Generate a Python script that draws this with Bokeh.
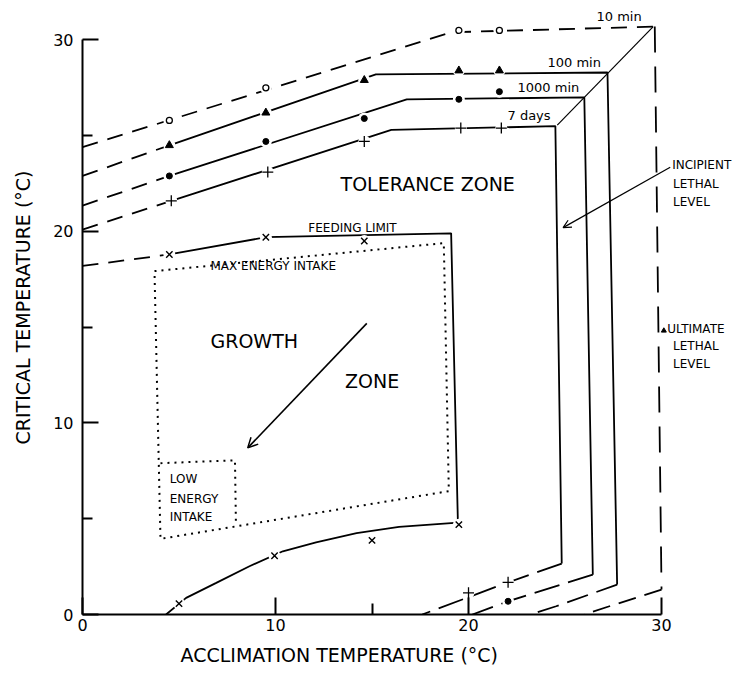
from bokeh.plotting import figure
from bokeh.models import Range1d, FixedTicker, Arrow, OpenHead, Title
from bokeh.embed import file_html
from bokeh.resources import INLINE
from bokeh.core.properties import value

FONT = "DejaVu Sans"

# ---------------- data ----------------
# upper critical temperatures (markers)
acc_10min = [4.5, 9.5, 19.5, 21.6]
crit_10min = [25.8, 27.5, 30.5, 30.5]
acc_100min = [4.5, 9.5, 14.6, 19.5, 21.6]
crit_100min = [24.5, 26.2, 27.9, 28.4, 28.4]
acc_1000min = [4.5, 9.5, 14.6, 19.5, 21.6]
crit_1000min = [22.9, 24.7, 25.9, 26.9, 27.3]
acc_7days = [4.6, 9.6, 14.6, 19.6, 21.7]
crit_7days = [21.6, 23.1, 24.7, 25.4, 25.4]
# lower critical temperatures (markers)
acc_7days_low = [20.0, 22.05]
crit_7days_low = [1.13, 1.68]
acc_1000min_low = [22.05]
crit_1000min_low = [0.69]
# feeding limits (markers)
acc_feed_up = [4.5, 9.5, 14.6]
crit_feed_up = [18.8, 19.7, 19.5]
acc_feed_low = [5.0, 9.95, 15.0, 19.5]
crit_feed_low = [0.57, 3.07, 3.87, 4.69]

# envelope curves
env10_top_x = [0, 19.1, 29.65]
env10_top_y = [24.4, 30.4, 30.7]
env10_side_x = [29.65, 30.0]
env10_side_y = [30.7, 1.3]
env10_low_x = [30.0, 27.3, 26.0]
env10_low_y = [1.3, 0.43, 0.0]

env100_ext_x = [0, 4.5]
env100_ext_y = [22.9, 24.5]
env100_x = [4.5, 15.2, 27.2, 27.7]
env100_y = [24.5, 28.2, 28.3, 1.56]
env100_low_x = [27.7, 24.54, 23.2]
env100_low_y = [1.56, 0.43, 0.0]

env1000_ext_x = [0, 4.5]
env1000_ext_y = [21.35, 22.9]
env1000_x = [4.5, 16.8, 26.0, 26.44]
env1000_y = [22.9, 26.9, 27.0, 2.08]
env1000_low_x = [26.44, 22.05, 20.2]
env1000_low_y = [2.08, 0.69, 0.0]

env7_ext_x = [0, 4.6]
env7_ext_y = [20.1, 21.6]
env7_x = [4.6, 16.0, 24.5, 24.83]
env7_y = [21.6, 25.3, 25.5, 2.66]
env7_low_x = [24.83, 22.05, 17.6]
env7_low_y = [2.66, 1.68, 0.0]

feed_ext_x = [0, 4.5]
feed_ext_y = [18.2, 18.8]
feed_x = [4.5, 9.5, 19.1, 19.45]
feed_y = [18.8, 19.7, 19.9, 4.8]
feed_low_x = [19.45, 16.4, 14.2, 12.1, 10.38, 8.65, 6.93, 5.37, 4.33]
feed_low_y = [4.8, 4.57, 4.25, 3.77, 3.3, 2.52, 1.65, 0.87, 0.0]

maxe_x = [3.73, 18.72, 18.98, 4.04, 3.73]
maxe_y = [17.93, 19.39, 6.44, 3.95, 17.93]
lowe_x = [4.04, 7.9, 7.95]
lowe_y = [7.9, 8.05, 4.65]

corner_link_x = [29.57, 24.6]
corner_link_y = [30.7, 25.55]

x_ticks = [0, 10, 20, 30]
y_ticks = [0, 10, 20, 30]

# ---------------- figure ----------------
p = figure(width=750, height=676, output_backend="svg", toolbar_location=None,
           x_range=Range1d(0, 34.61), y_range=Range1d(0, 32.06),
           min_border_left=82, min_border_right=0, min_border_top=0,
           min_border_bottom=62)
p.outline_line_color = None
p.grid.visible = False
p.background_fill_color = "white"

for ax in (p.xaxis[0], p.yaxis[0]):
    ax.bounds = (0, 30)
    ax.major_tick_out = 0
    ax.minor_tick_out = 0
    ax.axis_line_width = 2
    ax.major_tick_line_width = 2
    ax.minor_tick_line_width = 2
    ax.major_label_text_font = FONT
    ax.major_label_text_font_size = "16px"
    ax.major_label_text_color = "black"
    ax.axis_label_text_font = FONT
    ax.axis_label_text_font_size = "19px"
    ax.axis_label_text_font_style = "normal"
    ax.axis_label_text_color = "black"

p.xaxis.ticker = FixedTicker(ticks=x_ticks, minor_ticks=[15])
p.xaxis.major_tick_in = 17
p.xaxis.minor_tick_in = 11
p.xaxis.major_label_standoff = 4

p.yaxis.ticker = FixedTicker(ticks=y_ticks, minor_ticks=[5, 15, 25])
p.yaxis.major_tick_in = 16
p.yaxis.minor_tick_in = 10
p.yaxis.major_label_standoff = 9
p.yaxis.axis_label_standoff = 16
p.yaxis.axis_label = "CRITICAL TEMPERATURE (°C)"

# x-axis title as a Title below the axis, shifted to sit where the original is
p.add_layout(Title(text="ACCLIMATION TEMPERATURE (°C)", align="left", offset=98,
                   standoff=17, text_font=FONT, text_font_size="19px",
                   text_font_style="normal", text_color="black"), "below")

LW = 1.8
K = "black"

# 10 min envelope (dashed)
p.line(env10_top_x, env10_top_y, line_color=K, line_width=LW, line_dash="16 10")
p.line(env10_side_x, env10_side_y, line_color=K, line_width=LW, line_dash="26 14")
p.line(env10_low_x, env10_low_y, line_color=K, line_width=LW, line_dash="18 9")

# 100 min
p.line(env100_ext_x, env100_ext_y, line_color=K, line_width=LW, line_dash="16 10")
p.line(env100_x, env100_y, line_color=K, line_width=LW)
p.line(env100_low_x, env100_low_y, line_color=K, line_width=LW, line_dash="22 9")

# 1000 min
p.line(env1000_ext_x, env1000_ext_y, line_color=K, line_width=LW, line_dash="16 10")
p.line(env1000_x, env1000_y, line_color=K, line_width=LW)
p.line(env1000_low_x, env1000_low_y, line_color=K, line_width=LW, line_dash="26 9")

# 7 days
p.line(env7_ext_x, env7_ext_y, line_color=K, line_width=LW, line_dash="16 10")
p.line(env7_x, env7_y, line_color=K, line_width=LW)
p.line(env7_low_x, env7_low_y, line_color=K, line_width=LW, line_dash="26 9")

# feeding limit
p.line(feed_ext_x, feed_ext_y, line_color=K, line_width=LW, line_dash="16 10")
p.line(feed_x, feed_y, line_color=K, line_width=LW)
p.line(feed_low_x, feed_low_y, line_color=K, line_width=LW)

# dotted energy-intake outlines
p.line(maxe_x, maxe_y, line_color=K, line_width=2, line_dash="2 5")
p.line(lowe_x, lowe_y, line_color=K, line_width=2, line_dash="2 5")

# diagonal link between the corners
p.line(corner_link_x, corner_link_y, line_color=K, line_width=1.2)

# white halos to break lines at markers
halo = dict(fill_color="white", line_color=None)
for xs, ys in [(acc_10min, crit_10min), (acc_100min, crit_100min),
               (acc_1000min, crit_1000min), (acc_7days, crit_7days),
               (acc_7days_low, crit_7days_low), (acc_1000min_low, crit_1000min_low),
               (acc_feed_up, crit_feed_up), (acc_feed_low, crit_feed_low)]:
    p.scatter(xs, ys, marker="circle", size=12, **halo)

p.scatter(acc_10min, crit_10min, marker="circle", size=6, fill_color="white",
          line_color=K, line_width=1.3)
p.scatter(acc_100min, crit_100min, marker="triangle", size=8, fill_color=K,
          line_color=K)
p.scatter(acc_1000min, crit_1000min, marker="circle", size=6, fill_color=K,
          line_color=K)
p.scatter(acc_1000min_low, crit_1000min_low, marker="circle", size=6,
          fill_color=K, line_color=K)
p.scatter(acc_7days, crit_7days, marker="cross", size=11, line_color=K,
          line_width=1.3)
p.scatter(acc_7days_low, crit_7days_low, marker="cross", size=11,
          line_color=K, line_width=1.3)
p.scatter(acc_feed_up, crit_feed_up, marker="x", size=9, line_color=K,
          line_width=1.4)
p.scatter(acc_feed_low, crit_feed_low, marker="x", size=9, line_color=K,
          line_width=1.4)

# arrows
p.add_layout(Arrow(end=OpenHead(size=10, line_width=1.5, line_color=K),
                   x_start=14.73, y_start=15.2, x_end=8.56, y_end=8.7,
                   line_width=1.6, line_color=K))
p.add_layout(Arrow(end=OpenHead(size=8, line_width=1.2, line_color=K),
                   x_start=30.45, y_start=23.35, x_end=24.9, y_end=20.2,
                   line_width=1.2, line_color=K))
p.scatter([30.12], [14.82], marker="triangle", size=5, fill_color=K,
          line_color=K)

# ---------------- texts ----------------
def txt(xs, ys, texts, size):
    p.text(xs, ys, text=texts, text_font=value(FONT), text_font_size=size,
           text_baseline="middle", text_align="left", text_color=K)

txt([26.63, 24.09, 22.54, 22.02], [31.24, 28.84, 27.5, 26.06],
    ["10 min", "100 min", "1000 min", "7 days"], "13px")
txt([13.37], [22.5], ["TOLERANCE ZONE"], "19px")
txt([6.63, 13.6], [14.3, 12.2], ["GROWTH", "ZONE"], "19px")
txt([11.7, 6.63], [20.16, 18.19], ["FEEDING LIMIT", "MAX ENERGY INTAKE"], "12px")
txt([4.52, 4.52, 4.52], [7.09, 6.04, 5.08], ["LOW", "ENERGY", "INTAKE"], "12px")
txt([30.55, 30.6, 30.6], [23.45, 22.49, 21.53],
    ["INCIPIENT", "LETHAL", "LEVEL"], "12px")
txt([30.3, 30.6, 30.6], [14.93, 14.0, 13.1],
    ["ULTIMATE", "LETHAL", "LEVEL"], "12px")

open("out.html", "w").write(file_html(p, INLINE))
